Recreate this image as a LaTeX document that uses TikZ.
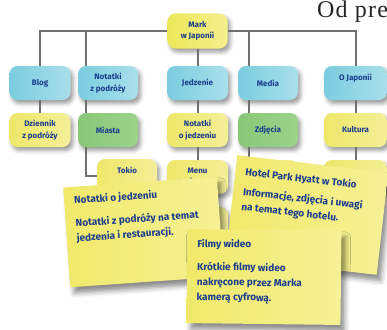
\documentclass[tikz,border=0pt]{standalone}
\usepackage{fontspec}
\setmainfont{Fira Sans}
\newfontfamily\bookfont[LetterSpace=5]{Liberation Serif}
\usetikzlibrary{positioning, shadows, shadows.blur}
\definecolor{inkblue}{HTML}{1B3D8F}
\definecolor{linegray}{HTML}{707070}
\definecolor{cyanL}{HTML}{7BCDDF}
\definecolor{cyanR}{HTML}{A9DFEA}
\definecolor{yellowL}{HTML}{EEE76A}
\definecolor{yellowR}{HTML}{F4EF98}
\definecolor{greenL}{HTML}{89C878}
\definecolor{greenR}{HTML}{9CD28A}
\definecolor{topL}{HTML}{ECE85A}
\definecolor{topR}{HTML}{F3EF8C}
\definecolor{noteL}{HTML}{F1E96A}
\definecolor{noteR}{HTML}{F5F196}

\begin{document}
\begin{tikzpicture}[x=1pt, y=-1pt,
  box/.style={rounded corners=8pt, minimum width=61pt, minimum height=34pt,
              inner sep=2pt, align=center, text=inkblue,
              font=\fontsize{8}{11.5}\selectfont\bfseries,
              blur shadow={shadow xshift=2.5pt, shadow yshift=-3.5pt,
                           shadow opacity=40, shadow blur radius=4pt}},
  bluebox/.style={box, left color=cyanL, right color=cyanR},
  yellowbox/.style={box, left color=yellowL, right color=yellowR},
  greenbox/.style={box, left color=greenL, right color=greenR},
  topbox/.style={box, left color=topL, right color=topR},
  link/.style={draw=linegray, line width=2pt},
  note/.style={minimum width=154pt, minimum height=100pt, inner sep=0pt,
               left color=noteL, right color=noteR,
               blur shadow={shadow xshift=4pt, shadow yshift=-6pt,
                            shadow opacity=45, shadow blur radius=5pt}},
  notetext/.style={anchor=north west, align=left, text=inkblue,
                   inner xsep=10pt, inner ysep=9pt,
                   font=\fontsize{10}{15}\selectfont\bfseries}
]
\useasboundingbox (0,0) rectangle (387,329);

% Heading text cut by the page edge
\node[anchor=base west, inner sep=0pt, text=black!85,
      font=\bookfont\fontsize{24}{24}\selectfont] (heading) at (317,18) {Od pre};

% Root
\node[topbox, minimum width=60pt, minimum height=35pt] (mark) at (197.5,31)
      {Mark\\w Japonii};

% Second row
\node[bluebox] (blog) at (40,83) {Blog};
\node[bluebox, minimum width=60pt] (travel) at (108,83) {Notatki\\z podróży};
\node[bluebox] (food) at (197.5,83) {Jedzenie};
\node[bluebox, minimum width=60pt] (media) at (268,83) {Media};
\node[bluebox, minimum width=63pt] (japan) at (355.5,83) {O Japonii\\~};

% Third row
\node[yellowbox] (diary) at (40,130) {Dziennik\\z podróży};
\node[greenbox, minimum width=60pt] (cities) at (108,130) {Miasta};
\node[yellowbox] (foodnotes) at (197.5,130) {Notatki\\o jedzeniu};
\node[greenbox, minimum width=60pt] (photos) at (268,130) {Zdjęcia};
\node[yellowbox, minimum width=63pt] (culture) at (355.5,130) {Kultura};

% Fourth row (mostly hidden)
\node[yellowbox, minimum width=60pt] (tokyo) at (127,176) {Tokio\\~};
\node[yellowbox] (menu) at (197.5,177) {Menu\\regionalne};
\node[yellowbox, minimum width=60pt] (photoset) at (268,177) {};
\node[yellowbox, minimum width=63pt] (cultureset) at (355.5,177) {};
\node[yellowbox] (menuset) at (197.5,224) {};

% Connectors
\coordinate (travelcol) at (86,31);
\coordinate (mediacol) at (249,31);
\draw[link] (blog.north) |- (mark.west);
\draw[link] (mark.east) -| (japan.north);
\draw[link] (travel.north -| travelcol) -- (travelcol);
\draw[link] (media.north -| mediacol) -- (mediacol);
\draw[link] (blog) -- (diary);
\draw[link] (travel.south -| travelcol) -- (cities.north -| travelcol);
\draw[link] (cities.south -| travelcol) |- (tokyo.west);
\draw[link] (mark) -- (food);
\draw[link] (food) -- (foodnotes);
\draw[link] (foodnotes) -- (menu);
\draw[link] (menu) -- (menuset);
\draw[link] (media.south -| mediacol) -- (photos.north -| mediacol);
\draw[link] (photos.south -| mediacol) -- (photoset.north -| mediacol);
\draw[link] (japan) -- (culture);
\draw[link] (culture) -- (cultureset);

% Sticky notes
\node[note, rotate=4] (foodnote) at (143.5,232) {};
\node[notetext, rotate=4] (foodtext) at (foodnote.north west)
      {Notatki o jedzeniu\\[8pt]Notatki z podróży na temat\\jedzenia i restauracji.};

\node[note, minimum width=152pt, minimum height=103pt, rotate=-6.5] (hotelnote)
      at (307,215) {};
\node[notetext, rotate=-6.5, inner ysep=11pt] (hoteltext) at (hotelnote.north west)
      {Hotel Park Hyatt w Tokio\\[5pt]Informacje, zdjęcia i uwagi\\na temat tego hotelu.};

\node[note, minimum height=94pt, rotate=-0.7] (videonote) at (264,277) {};
\node[notetext, rotate=-0.7, inner ysep=10pt] (videotext) at (videonote.north west)
      {Filmy wideo\\[8pt]Krótkie filmy wideo\\nakręcone przez Marka\\kamerą cyfrową.};

\end{tikzpicture}
\end{document}
